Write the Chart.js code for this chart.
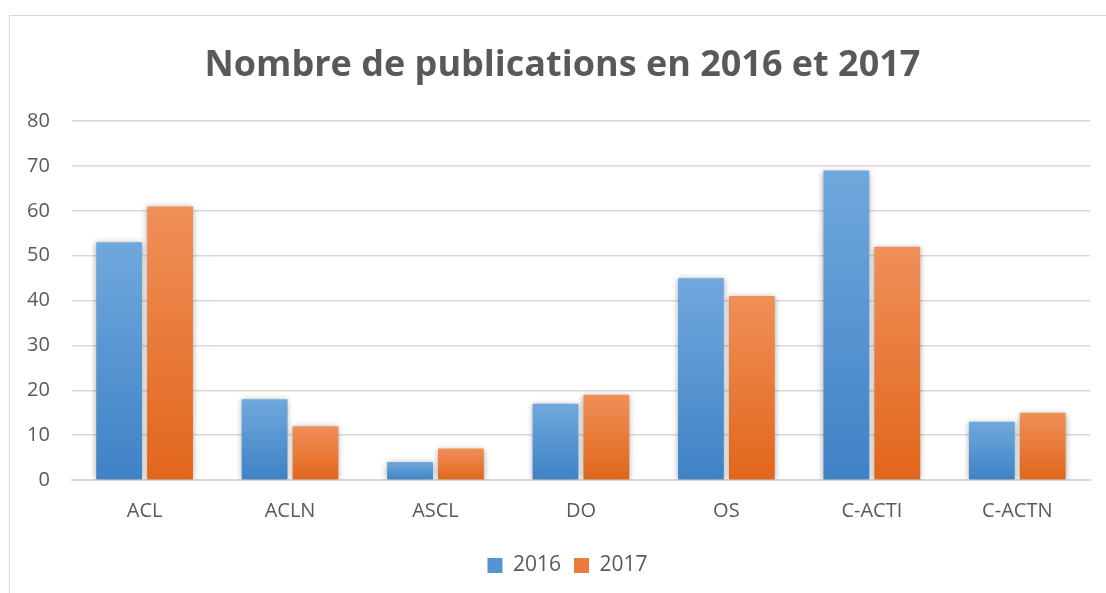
<!DOCTYPE html>
<html lang="fr">
<head>
<meta charset="utf-8">
<script src="https://cdn.jsdelivr.net/npm/chart.js@4/dist/chart.umd.min.js"></script>
<style>
  html, body { margin: 0; padding: 0; background: #ffffff; overflow: hidden; }
  #cadre {
    position: absolute; left: 9px; top: 15px; width: 1120px; height: 600px;
    border-left: 1px solid #d9d9d9; border-top: 1px solid #d9d9d9;
  }
  /* le graphique d'origine dépasse un peu à droite de la capture */
  #zone { position: absolute; left: 0; top: 0; width: 1124px; height: 593px; }
</style>
</head>
<body>
<div id="cadre"></div>
<div id="zone"><canvas id="graphique"></canvas></div>
<script>
// Données
const categories = ['ACL', 'ACLN', 'ASCL', 'DO', 'OS', 'C-ACTI', 'C-ACTN'];
const valeurs2016 = [53, 18, 4, 17, 45, 69, 13];
const valeurs2017 = [61, 12, 7, 19, 41, 52, 15];
const seriesLabels = ['2016', '2017'];
const yTicks = [0, 10, 20, 30, 40, 50, 60, 70, 80];

const gris = '#595959';
const police = "'Open Sans', 'Liberation Sans', sans-serif";

// Dégradé vertical par barre (clair en haut, foncé en bas)
const degrade = (haut, bas, plat) => (context) => {
    const chart = context.chart;
    const yScale = chart.scales.y;
    if (!chart.chartArea || !yScale || context.parsed == null) return plat;
    const yTop = yScale.getPixelForValue(context.parsed.y);
    const yBas = yScale.getPixelForValue(0);
    if (!isFinite(yTop) || yBas - yTop < 1) return plat;
    const g = chart.ctx.createLinearGradient(0, yTop, 0, yBas);
    g.addColorStop(0, haut);
    g.addColorStop(1, bas);
    return g;
};

// Ombre légère autour des barres
const ombreBarres = {
    id: 'ombreBarres',
    beforeDatasetsDraw(chart) {
        const ctx = chart.ctx;
        ctx.save();
        ctx.shadowColor = 'rgba(0,0,0,0.35)';
        ctx.shadowBlur = 6;
        ctx.shadowOffsetX = 0;
        ctx.shadowOffsetY = 1;
    },
    afterDatasetsDraw(chart) {
        chart.ctx.restore();
    }
};

// Le titre et la légende sont un peu décalés vers la droite sur l'original
const decalage = {
    id: 'decalage',
    afterLayout(chart) {
        if (chart.titleBlock) { chart.titleBlock.left += 15; chart.titleBlock.right += 15; }
        if (chart.legend) { chart.legend.left += 20; chart.legend.right += 20; }
    }
};

new Chart(document.getElementById('graphique'), {
    type: 'bar',
    data: {
        labels: categories,
        datasets: [
            {
                label: seriesLabels[0],
                data: valeurs2016,
                backgroundColor: degrade('#70a8dd', '#3f82c5', '#5594d3'),
                categoryPercentage: 0.7,
                barPercentage: 0.9
            },
            {
                label: seriesLabels[1],
                data: valeurs2017,
                backgroundColor: degrade('#f08f58', '#e2661b', '#ea7b3a'),
                categoryPercentage: 0.7,
                barPercentage: 0.9
            }
        ]
    },
    options: {
        responsive: true,
        maintainAspectRatio: false,
        animation: false,
        layout: { padding: { left: 5, right: 34, top: 12, bottom: 7 } },
        plugins: {
            title: {
                display: true,
                text: 'Nombre de publications en 2016 et 2017',
                color: gris,
                font: { family: police, size: 36, weight: 'bold' },
                padding: { top: 32, bottom: 34 }
            },
            legend: {
                position: 'bottom',
                labels: {
                    color: gris,
                    font: { family: police, size: 21 },
                    boxWidth: 15,
                    boxHeight: 15,
                    padding: 13,
                    generateLabels: (chart) => chart.data.datasets.map((ds, i) => ({
                        text: ds.label,
                        fillStyle: i === 0 ? '#5594d3' : '#ea7b3a',
                        strokeStyle: 'transparent',
                        lineWidth: 0,
                        fontColor: gris,
                        datasetIndex: i
                    }))
                }
            },
            tooltip: { enabled: false }
        },
        scales: {
            x: {
                grid: { display: false, drawTicks: false },
                border: { color: '#d9d9d9', width: 2 },
                ticks: { color: gris, font: { family: police, size: 20 }, padding: 19 }
            },
            y: {
                min: 0,
                max: 80,
                afterBuildTicks: (axis) => { axis.ticks = yTicks.map(v => ({ value: v })); },
                grid: { color: '#d9d9d9', lineWidth: 1.5, drawTicks: false },
                border: { display: false },
                ticks: { color: gris, font: { family: police, size: 20 }, padding: 22 }
            }
        }
    },
    plugins: [ombreBarres, decalage]
});
</script>
</body>
</html>
